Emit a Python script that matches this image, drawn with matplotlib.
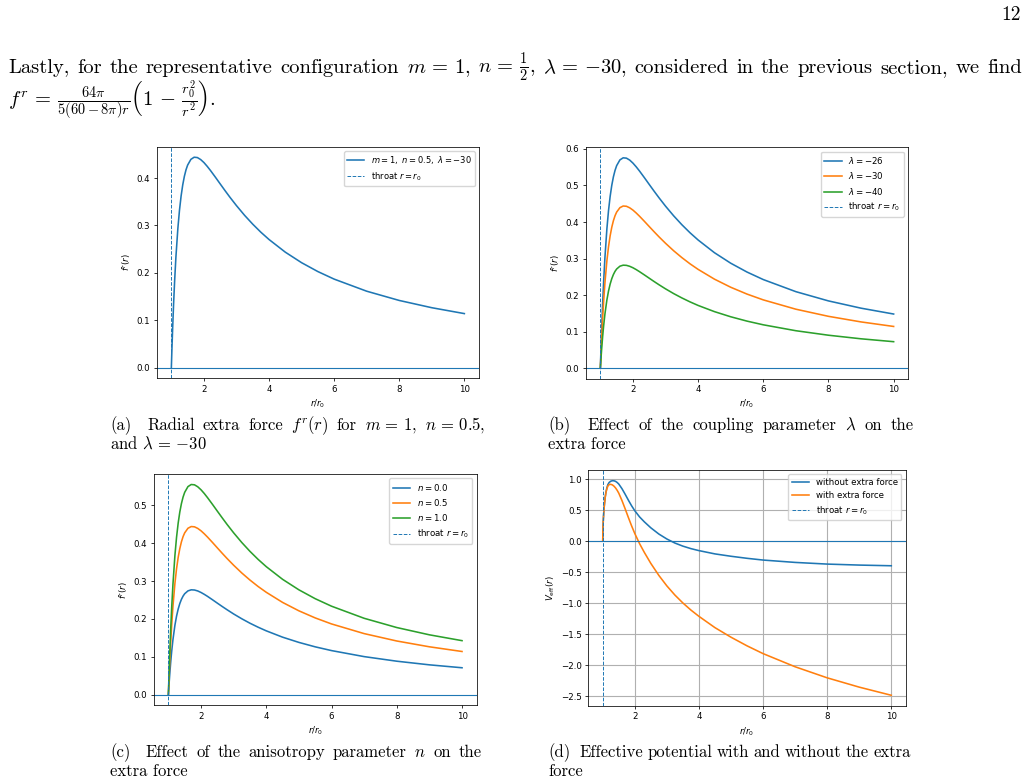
import matplotlib
matplotlib.use('Agg')
import matplotlib.pyplot as plt

r = [1.0, 1.02, 1.04, 1.07, 1.1, 1.14, 1.2, 1.25, 1.3, 1.35, 1.4, 1.45, 1.5, 1.6,
     1.7, 1.8, 1.9, 2.0, 2.1, 2.2, 2.35, 2.5, 2.65, 2.8, 3.0, 3.25, 3.5, 3.75,
     4.0, 4.5, 5.0, 5.5, 6.0, 7.0, 8.0, 9.0, 10.0]
f_base = [0, 0.0439, 0.0837, 0.1364, 0.1820, 0.2333, 0.2937, 0.3322, 0.3623, 0.3856,
          0.4036, 0.4172, 0.4272, 0.4393, 0.4438, 0.4431, 0.4389, 0.4326, 0.4247,
          0.4160, 0.4020, 0.3876, 0.3733, 0.3594, 0.3418, 0.3213, 0.3027, 0.2857,
          0.2704, 0.2437, 0.2215, 0.2028, 0.1869, 0.1614, 0.1419, 0.1266, 0.1142]
f_lam26 = [0, 0.0570, 0.1086, 0.1770, 0.2361, 0.3026, 0.3811, 0.4310, 0.4700, 0.5003,
           0.5236, 0.5412, 0.5543, 0.5700, 0.5757, 0.5748, 0.5695, 0.5612, 0.5510,
           0.5397, 0.5215, 0.5028, 0.4843, 0.4663, 0.4434, 0.4169, 0.3927, 0.3707,
           0.3508, 0.3161, 0.2873, 0.2631, 0.2425, 0.2094, 0.1841, 0.1642, 0.1482]
f_lam40 = [0, 0.0279, 0.0532, 0.0867, 0.1156, 0.1482, 0.1866, 0.2110, 0.2301, 0.2449,
           0.2563, 0.2650, 0.2714, 0.2791, 0.2819, 0.2814, 0.2788, 0.2748, 0.2698,
           0.2642, 0.2553, 0.2462, 0.2371, 0.2283, 0.2171, 0.2041, 0.1923, 0.1815,
           0.1717, 0.1548, 0.1407, 0.1288, 0.1187, 0.1025, 0.0902, 0.0804, 0.0725]
f_n0 = [0, 0.0274, 0.0522, 0.0851, 0.1136, 0.1455, 0.1833, 0.2073, 0.2260, 0.2406,
        0.2518, 0.2603, 0.2666, 0.2741, 0.2769, 0.2764, 0.2739, 0.2699, 0.2650,
        0.2596, 0.2508, 0.2418, 0.2329, 0.2243, 0.2132, 0.2005, 0.1888, 0.1783,
        0.1687, 0.1520, 0.1382, 0.1265, 0.1166, 0.1007, 0.0886, 0.0790, 0.0713]
f_n1 = [0, 0.0549, 0.1046, 0.1706, 0.2275, 0.2916, 0.3672, 0.4153, 0.4529, 0.4821,
        0.5045, 0.5215, 0.5341, 0.5492, 0.5547, 0.5539, 0.5487, 0.5408, 0.5310,
        0.5200, 0.5025, 0.4845, 0.4667, 0.4493, 0.4273, 0.4017, 0.3784, 0.3572,
        0.3380, 0.3046, 0.2769, 0.2535, 0.2337, 0.2018, 0.1774, 0.1582, 0.1428]

rd = [1.0, 1.01, 1.02, 1.04, 1.06, 1.08, 1.1, 1.13, 1.16, 1.2, 1.25, 1.3, 1.35, 1.4,
      1.45, 1.5, 1.6, 1.7, 1.8, 1.9, 2.0, 2.15, 2.3, 2.5, 2.75, 3.0, 3.25, 3.5,
      3.75, 4.0, 4.5, 5.0, 5.5, 6.0, 7.0, 8.0, 9.0, 10.0]
v_without = [0, 0.25, 0.36, 0.52, 0.63, 0.72, 0.79, 0.86, 0.91, 0.945, 0.965, 0.973,
             0.972, 0.963, 0.945, 0.92, 0.845, 0.755, 0.66, 0.57, 0.49, 0.39, 0.31,
             0.215, 0.115, 0.035, -0.03, -0.08, -0.12, -0.152, -0.205, -0.243,
             -0.276, -0.304, -0.342, -0.369, -0.385, -0.396]
v_with = [0, 0.25, 0.36, 0.518, 0.626, 0.714, 0.780, 0.844, 0.887, 0.911, 0.915,
          0.906, 0.886, 0.857, 0.819, 0.773, 0.654, 0.520, 0.381, 0.247, 0.123,
          -0.041, -0.183, -0.358, -0.551, -0.720, -0.867, -0.995, -1.109, -1.210,
          -1.392, -1.546, -1.685, -1.810, -2.022, -2.200, -2.350, -2.481]

W, H = 1028, 784
s = 6.2
plt.rcParams.update({
    'font.size': s, 'legend.fontsize': s,
    'axes.linewidth': 0.55, 'lines.linewidth': 1.15,
    'xtick.major.size': 2.3, 'ytick.major.size': 2.3,
    'xtick.major.width': 0.55, 'ytick.major.width': 0.55,
    'xtick.major.pad': 2.3, 'ytick.major.pad': 2.3,
    'axes.labelpad': 2.6, 'mathtext.fontset': 'dejavusans',
})

fig = plt.figure(figsize=(W / 100, H / 100), dpi=100)


def add_ax(x0, x1, y0, y1):
    return fig.add_axes([x0 / W, 1 - y1 / H, (x1 - x0) / W, (y1 - y0) / H])


def finish(ax, ylabel, legsize):
    ax.axhline(0, lw=0.8)
    ax.axvline(1, ls='--', lw=0.7, label='throat $r=r_0$')
    ax.set_xlabel('$r/r_0$')
    ax.set_ylabel(ylabel)
    ax.legend(loc='upper right', fontsize=legsize)


ax = add_ax(156.7, 479, 146.7, 378.3)
ax.plot(r, f_base, label=r'$m=1,\ n=0.5,\ \lambda=-30$')
finish(ax, '$f^r(r)$', 6.0)

ax = add_ax(585.7, 908.3, 147.3, 378.7)
ax.plot(r, f_lam26, label=r'$\lambda=-26$')
ax.plot(r, f_base, label=r'$\lambda=-30$')
ax.plot(r, f_lam40, label=r'$\lambda=-40$')
finish(ax, '$f^r(r)$', s)

ax = add_ax(153.7, 476.7, 474, 705.3)
ax.plot(r, f_n0, label='$n=0.0$')
ax.plot(r, f_base, label='$n=0.5$')
ax.plot(r, f_n1, label='$n=1.0$')
finish(ax, '$f^r(r)$', s)

ax = add_ax(588.3, 905.7, 470, 706)
ax.plot(rd, v_without, label='without extra force')
ax.plot(rd, v_with, label='with extra force')
ax.grid(True, lw=0.8)
finish(ax, r'$V_{\rm eff}(r)$', s)

# page text in a LaTeX-like face
tk = dict(fontfamily='cmr10', math_fontfamily='cm', va='baseline')
renderer = fig.canvas.get_renderer()


def justify(words, x0, x1, y, size, first_gap=1.0):
    texts = [fig.text(0, 1 - y / H, w, fontsize=size, **tk) for w in words]
    widths = [t.get_window_extent(renderer).width for t in texts]
    weights = [first_gap] + [1.0] * (len(words) - 2)
    gap = (x1 - x0 - sum(widths)) / sum(weights)
    x = x0
    for i, (t, w) in enumerate(zip(texts, widths)):
        t.set_x(x / W)
        if i < len(weights):
            x += w + gap * weights[i]


def line(txt, x0, y, size):
    fig.text(x0 / W, 1 - y / H, txt, fontsize=size, **tk)


fig.text(1021 / W, 1 - 20 / H, '12', fontsize=14, ha='right', **tk)

bs = 14.8
body = ['Lastly,', 'for', 'the', 'representative', 'configuration', r'$m\,=\,1$,',
        r'$n\,=\,\frac{1}{2}$,', r'$\lambda\,=\,{-}30$,', 'considered', 'in', 'the',
        'previous', 'section,', 'we', 'find']
justify(body, 8, 1022, 73, bs)
line(r'$f^r\,=\,\frac{64\pi}{5(60-8\pi)r}\left(1\,-\,\frac{r_0^2}{r^2}\right)$.',
     8, 105, bs)

cs = 12.0
justify(['(a)', 'Radial', 'extra', 'force', '$f^r(r)$', 'for', r'$m\,=\,1$,',
         r'$n\,=\,0.5$,'], 110, 485, 430, cs, 2.0)
line(r'and $\lambda\,=\,{-}30$', 110, 449, cs)
justify(['(b)', 'Effect', 'of', 'the', 'coupling', 'parameter', r'$\lambda$', 'on', 'the'],
        548, 914, 430, cs, 2.0)
line('extra force', 548, 449, cs)
justify(['(c)', 'Effect', 'of', 'the', 'anisotropy', 'parameter', '$n$', 'on', 'the'],
        110, 482, 757, cs, 2.0)
line('extra force', 110, 776, cs)
justify(['(d)', 'Effective', 'potential', 'with', 'and', 'without', 'the', 'extra'],
        548, 911, 757, cs, 2.0)
line('force', 548, 776, cs)

fig.savefig('out.png', dpi=100)
